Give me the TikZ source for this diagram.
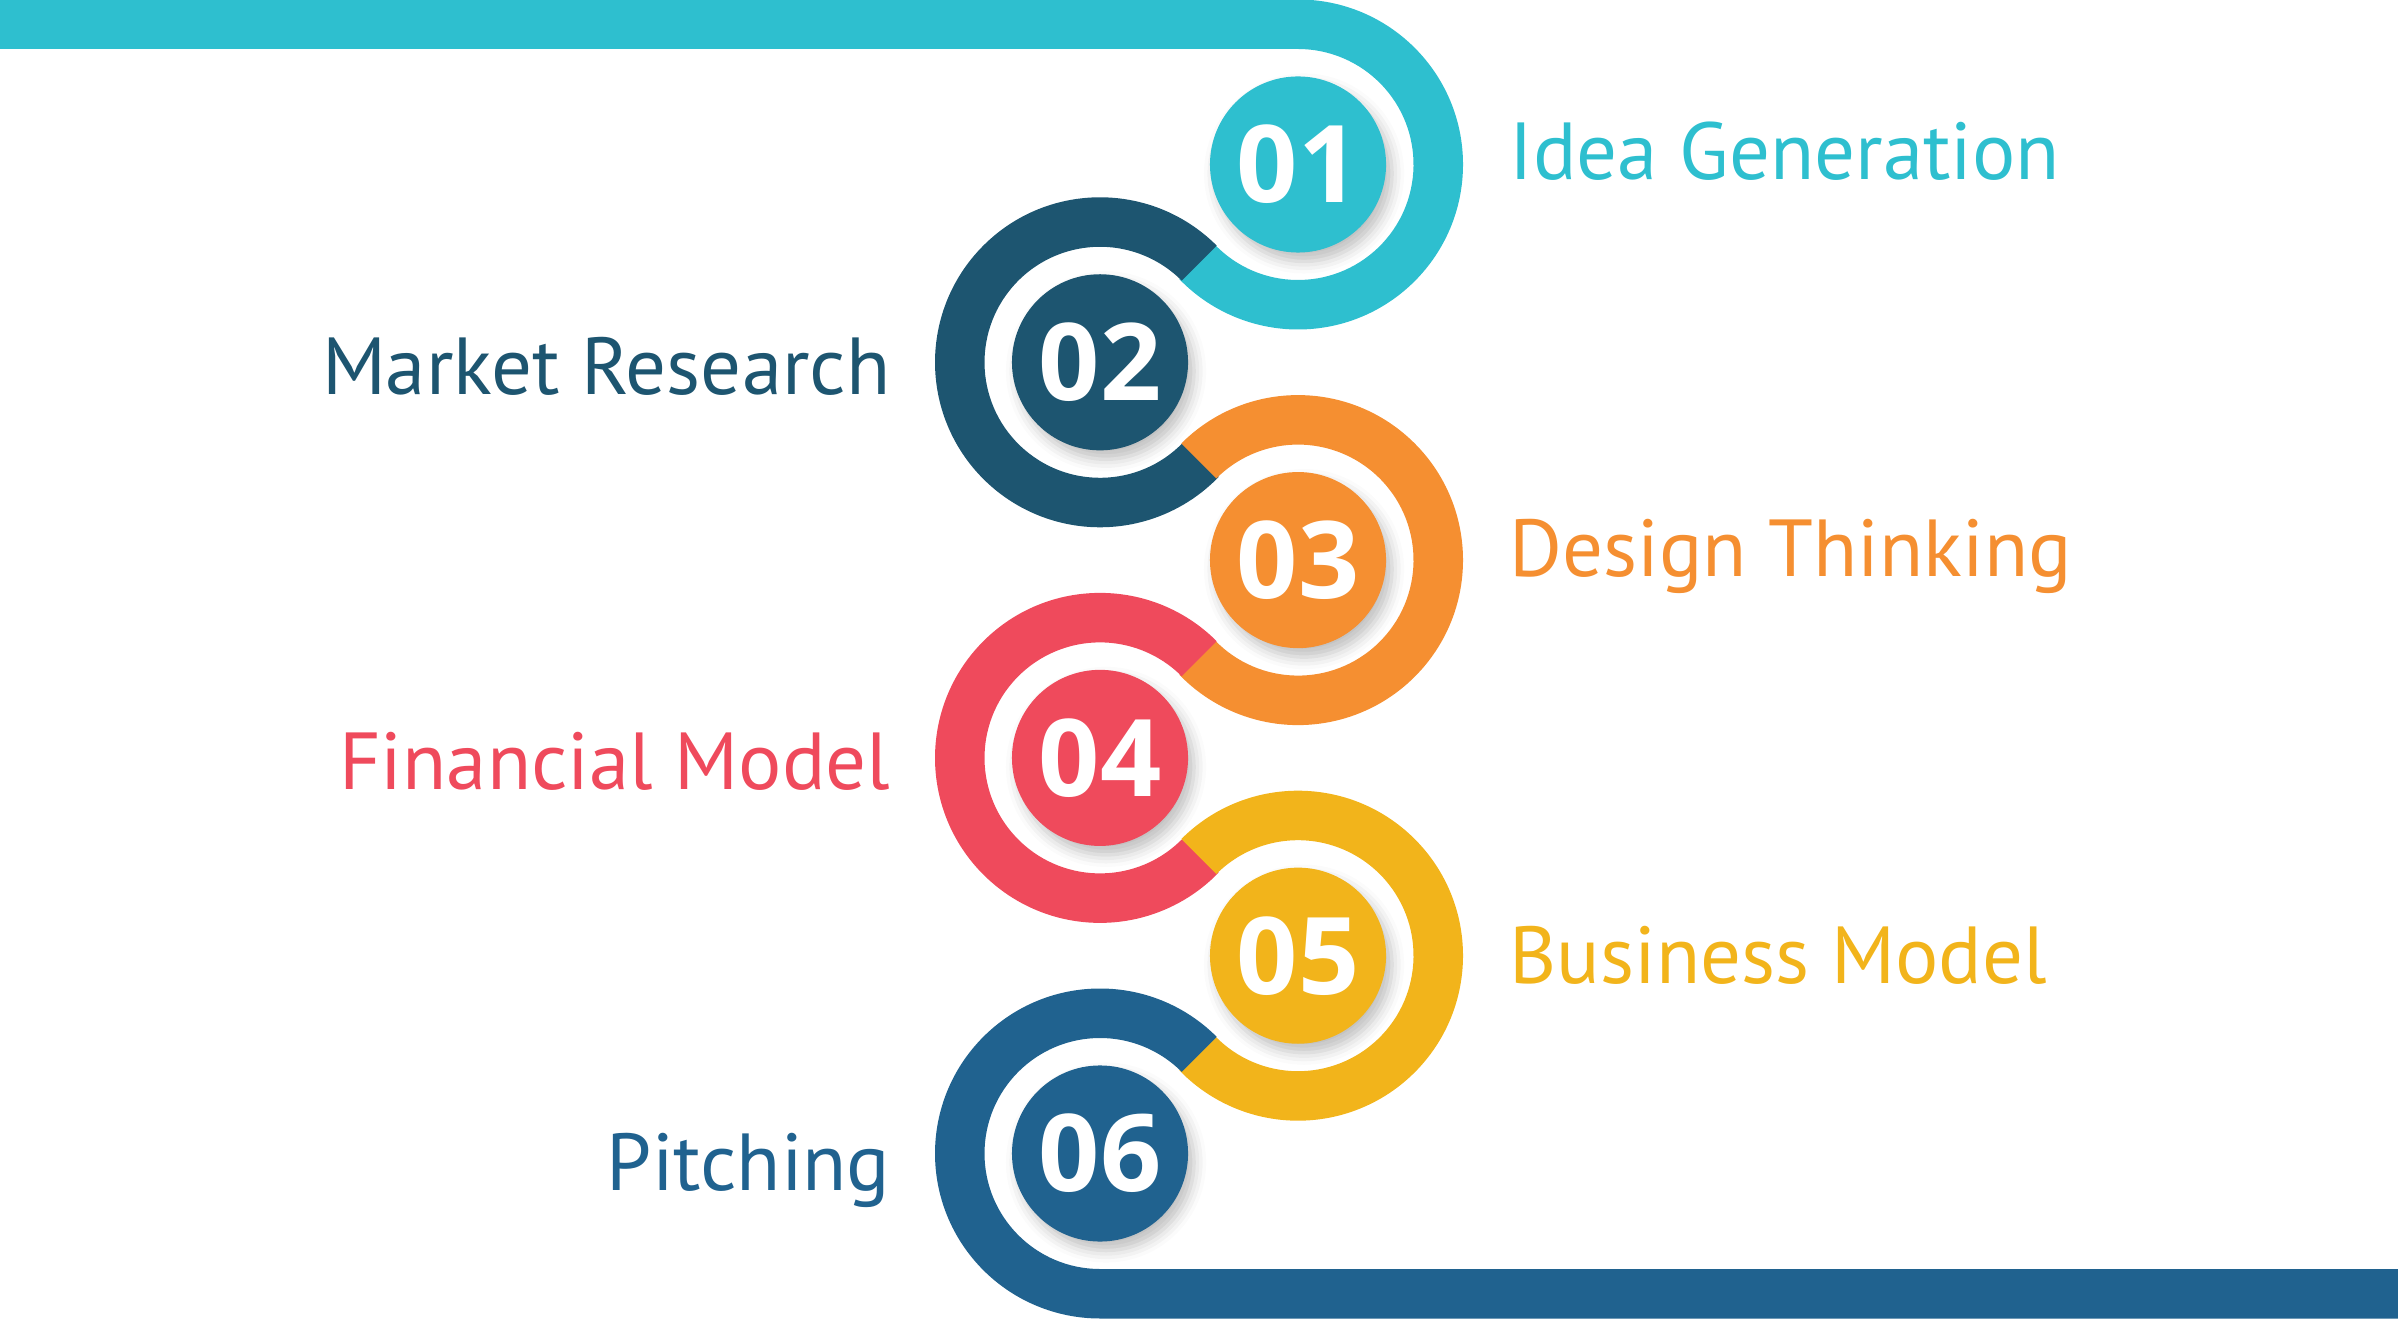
\documentclass[tikz,border=0pt]{standalone}
\usepackage{fontspec}
\setmainfont{PT Sans}
\newfontfamily\numfont{Open Sans}
\usetikzlibrary{calc,shadows.blur}
\definecolor{ideacol}{HTML}{2EBFCF}
\definecolor{marketcol}{HTML}{1D5570}
\definecolor{designcol}{HTML}{F58F31}
\definecolor{financecol}{HTML}{EF4A5C}
\definecolor{businesscol}{HTML}{F2B41B}
\definecolor{pitchcol}{HTML}{20628F}
\tikzset{
  numdisc/.style={circle, inner sep=0pt, minimum size=1.76cm, text=white,
    font=\numfont\bfseries\fontsize{30.5}{30.5}\selectfont,
    blur shadow={shadow xshift=0.6mm, shadow yshift=-0.9mm, shadow blur radius=1.2mm, shadow opacity=25}},
  steplabel/.style={inner sep=0pt, font=\fontsize{23}{23}\selectfont}
}

\begin{document}
\begin{tikzpicture}[x=0.01cm, y=0.01cm]
  \useasboundingbox (0,0) rectangle (2398,1318);

  \coordinate (c1) at (1298,1153.5);
  \coordinate (c2) at (1100,955.7);
  \coordinate (c3) at (1298,757.9);
  \coordinate (c4) at (1100,560.1);
  \coordinate (c5) at (1298,362.3);
  \coordinate (c6) at (1100,164.5);

  \fill[ideacol] (0,1319) -- ($(c1)+(90:165)$) arc[start angle=90, end angle=-136, radius=165]
    -- ($(c1)+(-136:115.5)$) arc[start angle=-136, end angle=90, radius=115.5] -- (0,1269) -- cycle;
  \fill[marketcol] ($(c2)+(45:165)$) arc[start angle=45, end angle=316, radius=165]
    -- ($(c2)+(316:115.5)$) arc[start angle=316, end angle=45, radius=115.5] -- cycle;
  \fill[designcol] ($(c3)+(135:165)$) arc[start angle=135, end angle=-136, radius=165]
    -- ($(c3)+(-136:115.5)$) arc[start angle=-136, end angle=135, radius=115.5] -- cycle;
  \fill[financecol] ($(c4)+(45:165)$) arc[start angle=45, end angle=316, radius=165]
    -- ($(c4)+(316:115.5)$) arc[start angle=316, end angle=45, radius=115.5] -- cycle;
  \fill[businesscol] ($(c5)+(135:165)$) arc[start angle=135, end angle=-136, radius=165]
    -- ($(c5)+(-136:115.5)$) arc[start angle=-136, end angle=135, radius=115.5] -- cycle;
  \fill[pitchcol] ($(c6)+(45:165)$) arc[start angle=45, end angle=270, radius=165]
    -- (2399,-0.5) -- (2399,49) -- ($(c6)+(270:115.5)$) arc[start angle=270, end angle=45, radius=115.5] -- cycle;

  \node[numdisc, fill=ideacol] (n1) at (c1) {01};
  \node[numdisc, fill=marketcol] (n2) at (c2) {02};
  \node[numdisc, fill=designcol] (n3) at (c3) {03};
  \node[numdisc, fill=financecol] (n4) at (c4) {04};
  \node[numdisc, fill=businesscol] (n5) at (c5) {05};
  \node[numdisc, fill=pitchcol] (n6) at (c6) {06};

  \node[steplabel, text=ideacol, anchor=base west] (l1) at (1509,1138.5) {Idea Generation};
  \node[steplabel, text=marketcol, anchor=base east] (l2) at (891,923.7) {Market Research};
  \node[steplabel, text=designcol, anchor=base west] (l3) at (1509,741) {Design Thinking};
  \node[steplabel, text=financecol, anchor=base east] (l4) at (891,528.1) {Financial Model};
  \node[steplabel, text=businesscol, anchor=base west] (l5) at (1509,335) {Business Model};
  \node[steplabel, text=pitchcol, anchor=base east] (l6) at (891,127.5) {Pitching};
\end{tikzpicture}
\end{document}
